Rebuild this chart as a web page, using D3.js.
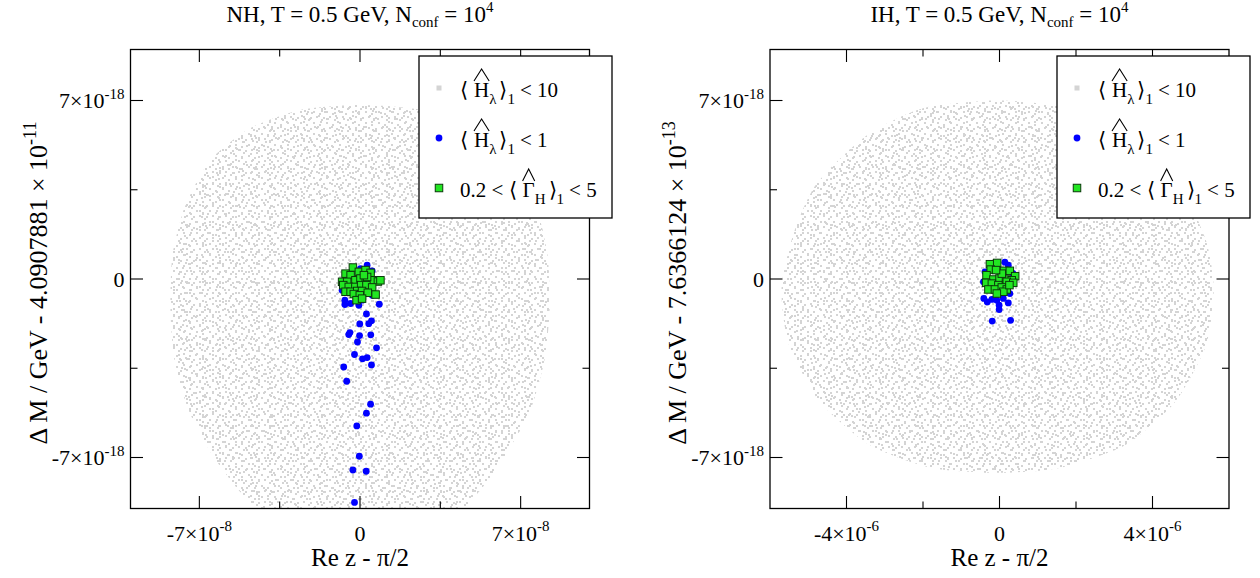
<!DOCTYPE html>
<html><head><meta charset="utf-8">
<script src="https://cdn.jsdelivr.net/npm/d3@7"></script>
<style>
body{margin:0;background:#fff}
svg{display:block}
text{font-family:"Liberation Serif","Times New Roman",serif;fill:#000}
</style>
</head><body>
<svg id="chart" width="1260" height="578"></svg>
<script>
// ================= DATA =================
// x values: NH in units of 1e-8, IH in units of 1e-6 ; y values in units of 1e-18
const hierarchies = ["NH", "IH"];
const yOffsetText = ["4.0907881", "7.6366124"];
const yOffsetExp = ["-11", "-13"];
const xDomainNH = [-10, 10];
const xDomainIH = [-6, 6];
const yDomain = [-9, 9];
const xTicksNH = [-7, 0, 7];
const xMinorNH = [-3.5, 3.5];
const xTicksIH = [-4, 0, 4];
const xMinorIH = [-2, 2];
const xTickExpNH = "-8";
const xTickExpIH = "-6";
const yTicks = [-7, 0, 7];
const yMinor = [-3.5, 3.5];
const yTickExp = "-18";

// outline of the grey cloud (<H>_1 < 10)
const cloudNH_x = [0.0, 2.64, 4.81, 6.56, 7.65, 8.17, 8.26, 8.04, 7.43, 6.34, 5.25, 3.94, 1.76, -1.72, -3.99, -5.29, -6.43, -7.47, -8.08, -8.26, -8.17, -7.60, -6.51, -4.77, -2.59];
const cloudNH_y = [6.82, 6.63, 5.92, 4.67, 2.90, 0.94, -1.22, -3.18, -5.14, -6.90, -8.27, -9.45, -10.24, -10.24, -9.45, -8.27, -6.90, -5.14, -3.18, -1.22, 0.94, 2.90, 4.67, 5.92, 6.63];
const cloudIH_x = [0.0, 1.8, 3.4, 4.7, 5.4, 5.6, 5.4, 4.6, 3.3, 1.6, 0.0, -1.8, -3.4, -4.7, -5.5, -5.7, -5.4, -4.8, -3.5, -2.0];
const cloudIH_y = [7.0, 6.7, 5.6, 3.7, 1.5, -0.4, -2.6, -4.8, -6.5, -7.4, -7.6, -7.4, -6.5, -4.8, -2.6, -0.4, 1.7, 3.7, 5.6, 6.7];

// <H>_1 < 1 (blue)
const blueNH_x = [0.31, 0.53, -0.66, -0.41, -0.05, 0.84, 0.28, -0.01, 0.38, 0.50, -0.44, -0.49, -0.02, 0.47, -0.11, 0.72, -0.24, 0.11, 0.31, 0.50, -0.71, -0.58, 0.46, 0.28, -0.14, -0.03, -0.31, 0.27, -0.24, -0.78, -0.66, 0.10, -0.12, 0.53, 0.02, -0.49, 0.72, -0.27];
const blueNH_y = [0.54, 0.32, -1.00, -0.96, -1.03, -0.99, -1.37, -1.76, -1.75, -1.64, -2.10, -2.18, -2.22, -2.19, -2.47, -2.70, -2.96, -3.13, -3.08, -3.37, -3.45, -4.01, -4.91, -5.26, -5.76, -6.95, -7.49, -7.54, -8.76, -0.44, -0.83, -0.83, -0.24, -0.64, 0.41, 0.22, -0.02, -0.57];
const blueIH_x = [-0.32, -0.41, -0.01, -0.01, 0.23, -0.19, 0.29, 0.23, -0.38, 0.27, -0.42, 0.35, -0.07, -0.20, 0.10, 0.14];
const blueIH_y = [-0.90, -0.76, -1.03, -1.20, -0.94, -1.65, -1.62, 0.54, 0.28, -0.57, -0.11, 0.22, -0.83, -0.80, -0.76, 0.66];

// 0.2 < <Gamma_H>_1 < 5 (green)
const greenNH_x = [-0.31, -0.05, 0.24, 0.46, -0.63, -0.41, -0.20, 0.02, 0.25, 0.53, 0.78, -0.78, -0.56, -0.73, -0.49, -0.20, 0.05, 0.28, 0.53, -0.63, -0.41, -0.12, 0.09, 0.34, 0.68, -0.27, -0.01, -0.15, 0.09, 0.31, 0.17, 0.89];
const greenNH_y = [0.45, 0.28, 0.35, 0.24, 0.21, 0.15, -0.05, 0.02, -0.02, -0.05, -0.10, -0.11, -0.11, -0.24, -0.31, -0.31, -0.24, -0.24, -0.33, -0.50, -0.50, -0.47, -0.47, -0.54, -0.61, -0.59, -0.64, -0.83, -0.77, 0.08, 0.15, -0.05];
const greenIH_x = [-0.25, -0.06, -0.23, 0.12, 0.27, 0.41, -0.34, -0.16, 0.00, 0.17, 0.32, -0.35, -0.20, -0.03, 0.19, 0.36, -0.29, -0.12, 0.06, 0.19, 0.10, -0.07, 0.26, 0.06, -0.09];
const greenIH_y = [0.58, 0.63, 0.37, 0.32, 0.32, 0.11, 0.15, -0.02, 0.02, -0.02, -0.05, -0.15, -0.18, -0.24, -0.11, -0.15, -0.41, -0.41, -0.33, -0.41, -0.50, -0.57, -0.24, 0.21, 0.35];

// ================= LAYOUT / STYLE =================
const svg = d3.select("#chart");
const yTop = 49.5, yBot = 508.5;
const panelsGeom = [
  {x0: 130.5, x1: 589.5, legX: 419, legW: 193, yLabX: 47},
  {x0: 770, x1: 1229, legX: 1057, legW: 193, yLabX: 686}
];
const FS = 22, FSUP = 15;

const defs = svg.append("defs");
// stipple texture for the dense grey point cloud
function stipple(id, w, h, pts) {
  const p = defs.append("pattern").attr("id", id).attr("patternUnits", "userSpaceOnUse")
    .attr("width", w).attr("height", h);
  pts.forEach(q => p.append("rect").attr("x", q[0]).attr("y", q[1]).attr("width", 2).attr("height", 2).attr("fill", "#d4d4d4"));
}
stipple("stA", 13, 11, [[1,1],[7,3],[11,7],[4,6],[9,9]]);
stipple("stB", 17, 19, [[3,4],[12,1],[8,12],[15,15],[1,16],[14,7]]);
stipple("stC", 23, 29, [[5,2],[18,10],[2,21],[12,25],[20,19]]);

function sup(textSel, base, exp, size, supSize) {
  textSel.append("tspan").text(base);
  if (exp) textSel.append("tspan").attr("dy", -size * 0.42).attr("font-size", supSize).text(exp);
}

function rich(g, x0, y0, pieces) {
  const size = 21;
  let cx = x0;
  pieces.forEach(p => {
    const fs = p.sub ? 15 : size;
    const t = g.append("text").attr("x", cx).attr("y", y0 + (p.sub ? 7 : 0)).attr("font-size", fs)
      .style("white-space", "pre").attr("xml:space", "preserve").text(p.t);
    const w = t.node().getComputedTextLength();
    if (p.hat) {
      g.append("path").attr("d", `M${cx},${y0 - 16} L${cx + w / 2},${y0 - 28} L${cx + w},${y0 - 16}`)
        .attr("fill", "none").attr("stroke", "#000").attr("stroke-width", 1.1);
    }
    cx += w + (p.gap || 0);
  });
}

hierarchies.forEach((hier, i) => {
  const G = panelsGeom[i];
  const isNH = i === 0;
  const x = d3.scaleLinear().domain(isNH ? xDomainNH : xDomainIH).range([G.x0, G.x1]);
  const y = d3.scaleLinear().domain(yDomain).range([yBot, yTop]);
  const g = svg.append("g");

  defs.append("clipPath").attr("id", "clip" + i).append("rect")
    .attr("x", G.x0).attr("y", yTop).attr("width", G.x1 - G.x0).attr("height", yBot - yTop);

  const plot = g.append("g").attr("clip-path", `url(#clip${i})`);
  const cx = isNH ? cloudNH_x : cloudIH_x, cy = isNH ? cloudNH_y : cloudIH_y;
  const cloud = cx.map((v, k) => [v, cy[k]]);
  const line = d3.line().x(d => x(d[0])).y(d => y(d[1])).curve(d3.curveCardinalClosed.tension(0.3));
  ["stA", "stB", "stC"].forEach(id => plot.append("path").attr("d", line(cloud)).attr("fill", `url(#${id})`));

  const bx = isNH ? blueNH_x : blueIH_x, by = isNH ? blueNH_y : blueIH_y;
  plot.selectAll("circle.b").data(bx.map((v, k) => [v, by[k]])).join("circle")
    .attr("cx", d => x(d[0])).attr("cy", d => y(d[1])).attr("r", 3.4).attr("fill", "#0000ff");

  const gx = isNH ? greenNH_x : greenIH_x, gy = isNH ? greenNH_y : greenIH_y;
  const s = 7.5;
  plot.selectAll("rect.g").data(gx.map((v, k) => [v, gy[k]])).join("rect")
    .attr("x", d => x(d[0]) - s / 2).attr("y", d => y(d[1]) - s / 2).attr("width", s).attr("height", s)
    .attr("fill", "#22e622").attr("stroke", "#0b3a0b").attr("stroke-width", 1);

  // frame
  g.append("rect").attr("x", G.x0).attr("y", yTop).attr("width", G.x1 - G.x0).attr("height", yBot - yTop)
    .attr("fill", "none").attr("stroke", "#000").attr("stroke-width", 1.3);

  // ticks
  const xt = isNH ? xTicksNH : xTicksIH, xm = isNH ? xMinorNH : xMinorIH;
  const tk = g.append("g").attr("stroke", "#000").attr("stroke-width", 1.1);
  xt.forEach(v => {
    tk.append("line").attr("x1", x(v)).attr("x2", x(v)).attr("y1", yBot).attr("y2", yBot - 12.5);
    tk.append("line").attr("x1", x(v)).attr("x2", x(v)).attr("y1", yTop).attr("y2", yTop + 12.5);
  });
  xm.forEach(v => {
    tk.append("line").attr("x1", x(v)).attr("x2", x(v)).attr("y1", yBot).attr("y2", yBot - 7);
    tk.append("line").attr("x1", x(v)).attr("x2", x(v)).attr("y1", yTop).attr("y2", yTop + 7);
  });
  yTicks.forEach(v => {
    tk.append("line").attr("x1", G.x0).attr("x2", G.x0 + 12.5).attr("y1", y(v)).attr("y2", y(v));
    tk.append("line").attr("x1", G.x1).attr("x2", G.x1 - 12.5).attr("y1", y(v)).attr("y2", y(v));
  });
  yMinor.forEach(v => {
    tk.append("line").attr("x1", G.x0).attr("x2", G.x0 + 7).attr("y1", y(v)).attr("y2", y(v));
    tk.append("line").attr("x1", G.x1).attr("x2", G.x1 - 7).attr("y1", y(v)).attr("y2", y(v));
  });

  // tick labels
  const xe = isNH ? xTickExpNH : xTickExpIH;
  xt.forEach(v => {
    const t = g.append("text").attr("x", x(v)).attr("y", yBot + 32).attr("text-anchor", "middle").attr("font-size", FS);
    if (v === 0) sup(t, "0", null, FS, FSUP); else sup(t, `${v < 0 ? "-" : ""}${Math.abs(v)}×10`, xe, FS, FSUP);
  });
  yTicks.forEach(v => {
    const t = g.append("text").attr("x", G.x0 - 6).attr("y", y(v) + 7.5).attr("text-anchor", "end").attr("font-size", FS);
    if (v === 0) sup(t, "0", null, FS, FSUP); else sup(t, `${v < 0 ? "-" : ""}${Math.abs(v)}×10`, yTickExp, FS, FSUP);
  });

  // axis titles
  const cxm = (G.x0 + G.x1) / 2;
  g.append("text").attr("x", cxm).attr("y", 566).attr("text-anchor", "middle").attr("font-size", 25).text("Re z - π/2");
  const yl = g.append("text").attr("transform", `translate(${G.yLabX},${(yTop + yBot) / 2 + 4}) rotate(-90)`)
    .attr("text-anchor", "middle").attr("font-size", 26);
  sup(yl, `Δ M / GeV - ${yOffsetText[i]} × 10`, yOffsetExp[i], 26, 18);

  // title
  const tt = g.append("text").attr("x", cxm).attr("y", 22).attr("text-anchor", "middle").attr("font-size", 23);
  tt.append("tspan").text(`${hier}, T = 0.5 GeV, N`);
  tt.append("tspan").attr("dy", 5).attr("font-size", 15).text("conf");
  tt.append("tspan").attr("dy", -5).text(" = 10");
  tt.append("tspan").attr("dy", -10).attr("font-size", 15).text("4");

  // legend
  const lg = g.append("g");
  lg.append("rect").attr("x", G.legX).attr("y", 56).attr("width", G.legW).attr("height", 162)
    .attr("fill", "#fff").attr("stroke", "#000").attr("stroke-width", 1.3);
  const mx = G.legX + 20;
  lg.append("rect").attr("x", mx - 2.5).attr("y", 88 - 2.5).attr("width", 5).attr("height", 5).attr("fill", "#d4d4d4");
  lg.append("circle").attr("cx", mx).attr("cy", 138).attr("r", 3.4).attr("fill", "#0000ff");
  lg.append("rect").attr("x", mx - 3.75).attr("y", 188 - 3.75).attr("width", 7.5).attr("height", 7.5)
    .attr("fill", "#22e622").attr("stroke", "#0b3a0b").attr("stroke-width", 1);
  const tx = G.legX + 41;
  rich(lg, tx, 97, [{t: "⟨", gap: 6}, {t: "H", hat: 1}, {t: "λ", sub: 1, gap: 3}, {t: "⟩"}, {t: "1", sub: 1, gap: 5}, {t: "< 10"}]);
  rich(lg, tx, 147, [{t: "⟨", gap: 6}, {t: "H", hat: 1}, {t: "λ", sub: 1, gap: 3}, {t: "⟩"}, {t: "1", sub: 1, gap: 5}, {t: "< 1"}]);
  rich(lg, tx, 197, [{t: "0.2 < ", gap: 0}, {t: "⟨", gap: 6}, {t: "Γ", hat: 1}, {t: "H", sub: 1, gap: 3}, {t: "⟩"}, {t: "1", sub: 1, gap: 5}, {t: "< 5"}]);
});
</script>
</body></html>
